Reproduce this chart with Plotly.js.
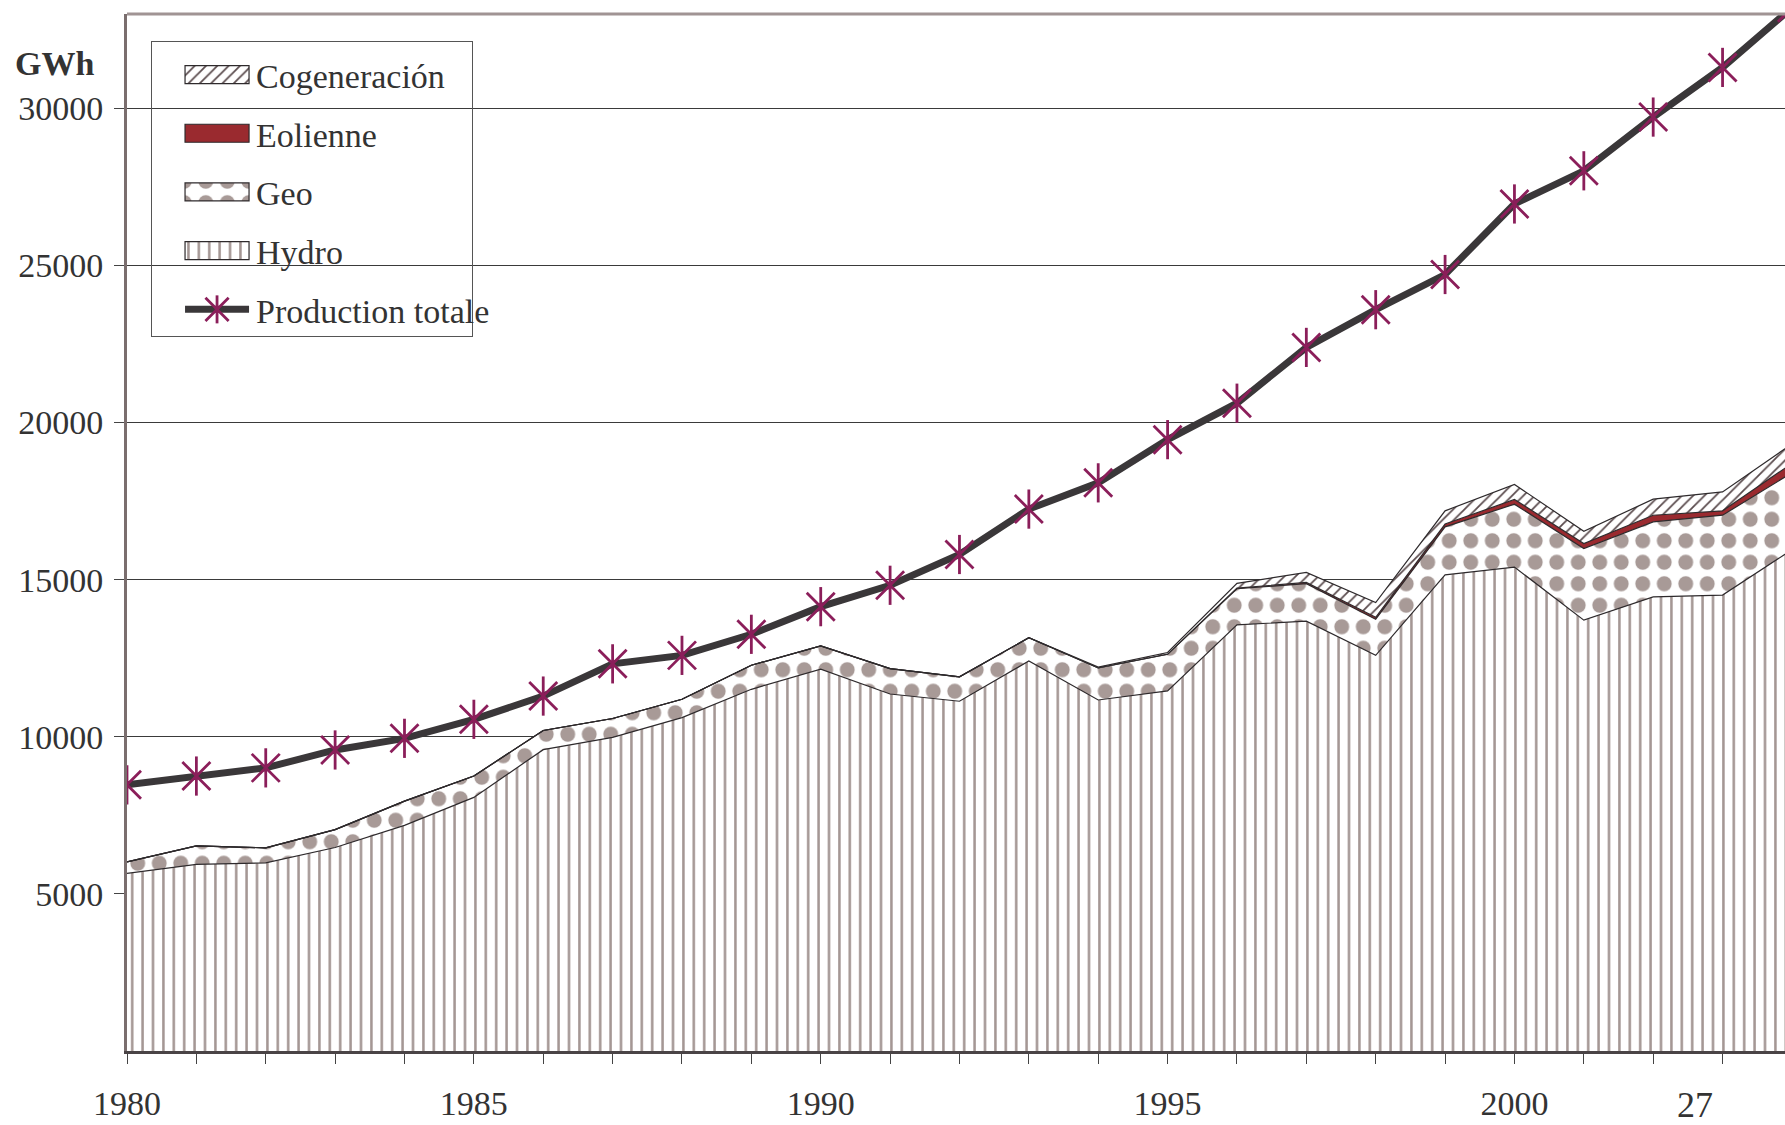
<!DOCTYPE html>
<html>
<head>
<meta charset="utf-8">
<script src="https://cdn.plot.ly/plotly-3.0.1.min.js"></script>
<style>
  html, body { margin: 0; padding: 0; background: #ffffff; }
  #chart { width: 1785px; height: 1125px; }
</style>
</head>
<body>
<div id="chart"></div>
<script>
// ---- Data (GWh) ----
const years = [1980, 1981, 1982, 1983, 1984, 1985, 1986, 1987, 1988, 1989,
               1990, 1991, 1992, 1993, 1994, 1995, 1996, 1997, 1998, 1999,
               2000, 2001, 2002, 2003, 2004];
const hydro = [5650, 5940, 5985, 6475, 7180, 8070, 9590, 9980, 10610, 11510,
               12150, 11360, 11130, 12410, 11170, 11460, 13560, 13680, 12590, 15150,
               15400, 13710, 14450, 14510, 15950];
const geo = [370, 585, 480, 570, 770, 680, 610, 600, 585, 765,
             740, 810, 775, 740, 1020, 1170, 1150, 1190, 1150, 1530,
             2000, 2280, 2390, 2540, 2450];
const eolienne = [0, 0, 0, 0, 0, 0, 0, 0, 0, 0,
                  0, 0, 0, 0, 0, 0, 20, 40, 60, 90,
                  150, 160, 210, 140, 300];
const cogeneracion = [0, 0, 0, 0, 0, 0, 0, 0, 0, 0,
                      0, 0, 0, 0, 30, 50, 150, 320, 470, 420,
                      480, 390, 510, 600, 620];
const productionTotale = [8470, 8750, 9010, 9580, 9950, 10555, 11295, 12320, 12590, 13260,
                          14140, 14820, 15800, 17245, 18080, 19455, 20615, 22390, 23590, 24710,
                          26955, 28010, 29720, 31300, 33200];
const seriesNames = ['Cogeneración', 'Eolienne', 'Geo', 'Hydro', 'Production totale'];
const yTickVals = [5000, 10000, 15000, 20000, 25000, 30000];
const xTickVals = [1980, 1985, 1990, 1995, 2000];
const unitLabel = 'GWh';
const pageNumber = '27';

// ---- Styles ----
const FONT = 'Liberation Serif, Times New Roman, serif';
const TXT = '#333333';
const OUTLINE = {color: '#2e2a2c', width: 1.2};
const MARKER_COLOR = '#8b1e5a';

const hydroTrace = {
  x: years, y: hydro, name: seriesNames[3], type: 'scatter', mode: 'lines',
  stackgroup: 'ren', legendgroup: 'g4', legendrank: 4,
  line: OUTLINE, fillcolor: '#ffffff',
  fillpattern: {shape: '|', fgcolor: '#a39592', bgcolor: '#ffffff', size: 10.4, solidity: 0.24}
};
const geoTrace = {
  x: years, y: geo, name: seriesNames[2], type: 'scatter', mode: 'lines',
  stackgroup: 'ren', legendgroup: 'g3', legendrank: 3,
  line: OUTLINE, fillcolor: '#ffffff',
  fillpattern: {shape: '.', fgcolor: '#a89a97', bgcolor: '#ffffff', size: 21.5, solidity: 0.38}
};
const eolTrace = {
  x: years, y: eolienne, name: seriesNames[1], type: 'scatter', mode: 'lines',
  stackgroup: 'ren', legendgroup: 'g2', legendrank: 2,
  line: OUTLINE, fillcolor: '#9a2a2f'
};
const cogTrace = {
  x: years, y: cogeneracion, name: seriesNames[0], type: 'scatter', mode: 'lines',
  stackgroup: 'ren', legendgroup: 'g1', legendrank: 1,
  line: OUTLINE, fillcolor: '#ffffff',
  fillpattern: {shape: '/', fgcolor: '#5a4b4d', bgcolor: '#ffffff', size: 8, solidity: 0.22}
};
const totalTrace = {
  x: years, y: productionTotale, name: seriesNames[4], type: 'scatter', mode: 'lines+markers',
  legendgroup: 'g5', legendrank: 5,
  line: {color: '#3a3739', width: 7},
  marker: {symbol: 'x-thin-open', size: 28, color: MARKER_COLOR, line: {color: MARKER_COLOR, width: 2.8}}
};
const totalStem = {
  x: years, y: productionTotale, name: seriesNames[4], type: 'scatter', mode: 'markers',
  showlegend: false, legendgroup: 'g5',
  marker: {symbol: 'line-ns-open', size: 28, color: MARKER_COLOR, line: {color: MARKER_COLOR, width: 2.8}}
};

const LEG_SHIFT = 4; // px the legend entries sit below the box top, relative to Plotly's default

const layout = {
  width: 1785, height: 1125,
  margin: {l: 127, r: 0, t: 14, b: 74, pad: 0},
  paper_bgcolor: '#ffffff', plot_bgcolor: '#ffffff',
  font: {family: FONT, color: TXT, size: 32},
  showlegend: true,
  legend: {
    x: 0.0145, y: 0.974 - LEG_SHIFT / 1037, xanchor: 'left', yanchor: 'top',
    bgcolor: 'rgba(0,0,0,0)', bordercolor: '#555555', borderwidth: 1,
    font: {family: FONT, size: 34, color: TXT},
    traceorder: 'grouped', tracegroupgap: 11.5, itemwidth: 94,
    itemclick: false, itemdoubleclick: false
  },
  xaxis: {
    range: [1980, 2003.9], type: 'linear',
    tickmode: 'array', tickvals: xTickVals, ticktext: xTickVals.map(String),
    ticks: 'outside', ticklen: 10, tickwidth: 1, tickcolor: '#444444',
    minor: {dtick: 1, tick0: 1980, ticks: 'outside', ticklen: 10, tickwidth: 1, tickcolor: '#444444', showgrid: false},
    showgrid: false, zeroline: false,
    showline: true, linecolor: '#4a4446', linewidth: 3,
    tickfont: {family: FONT, size: 34, color: TXT},
    ticklabelstandoff: 10
  },
  yaxis: {
    range: [0, 33000],
    tickmode: 'array', tickvals: yTickVals, ticktext: yTickVals.map(String),
    ticks: 'outside', ticklen: 10, tickwidth: 1, tickcolor: '#444444',
    showgrid: true, gridcolor: '#3a3a3a', gridwidth: 1,
    zeroline: false, showline: true, linecolor: '#7a6e6e', linewidth: 3,
    tickfont: {family: FONT, size: 34, color: TXT},
    ticklabelstandoff: 4
  },
  shapes: [
    {type: 'line', xref: 'paper', yref: 'paper', x0: 0, x1: 1, y0: 1, y1: 1,
     line: {color: '#a09494', width: 3}}
  ],
  annotations: [
    {text: '<b>' + unitLabel + '</b>', xref: 'paper', yref: 'paper',
     x: -0.0685, y: 0.952, xanchor: 'left', yanchor: 'middle', showarrow: false,
     font: {family: FONT, size: 34, color: TXT}},
    {text: pageNumber, xref: 'x', yref: 'paper', x: 2002.6, y: -0.052,
     xanchor: 'center', yanchor: 'middle', showarrow: false,
     font: {family: FONT, size: 36, color: TXT}}
  ]
};

const gd = document.getElementById('chart');
Plotly.newPlot(gd, [hydroTrace, geoTrace, eolTrace, cogTrace, totalTrace, totalStem], layout,
  {staticPlot: true, displayModeBar: false}).then(function () {
  // Legend cosmetics: taller swatches, shifted right, fixed box size as in the reference
  const SW_X = 33, SW_W = 64, SW_H = 18;
  const NS = 'http://www.w3.org/2000/svg';
  gd.querySelectorAll('.legend g.traces').forEach(function (tr) {
    const fill = tr.querySelector('path.js-fill');
    const line = tr.querySelector('path.js-line');
    const rect = 'M' + SW_X + ',' + (-SW_H / 2) + 'h' + SW_W + 'v' + SW_H + 'h-' + SW_W + 'z';
    if (fill) {
      fill.setAttribute('d', rect);
      if (line) { line.setAttribute('d', rect); line.style.fill = 'none'; line.style.strokeWidth = '1.2px'; }
    } else if (line) {
      line.setAttribute('d', 'M' + SW_X + ',0h' + SW_W);
    }
    const pts = tr.querySelectorAll('path.scatterpts');
    pts.forEach(function (p) {
      p.setAttribute('transform', 'translate(' + (SW_X + SW_W / 2) + ',0) scale(1.45)');
      p.style.strokeWidth = '1.9px';
    });
    if (pts.length) {
      const stem = document.createElementNS(NS, 'path');
      stem.setAttribute('d', 'M' + (SW_X + SW_W / 2) + ',-14V14');
      stem.setAttribute('style', 'stroke:' + MARKER_COLOR + ';stroke-width:2.8px;fill:none');
      pts[0].parentNode.appendChild(stem);
    }
  });
  const bg = gd.querySelector('.legend rect.bg');
  if (bg) {
    bg.setAttribute('width', 321);
    bg.setAttribute('height', 295);
    bg.setAttribute('y', (parseFloat(bg.getAttribute('y')) || 0) - LEG_SHIFT);
  }
});
</script>
</body>
</html>
